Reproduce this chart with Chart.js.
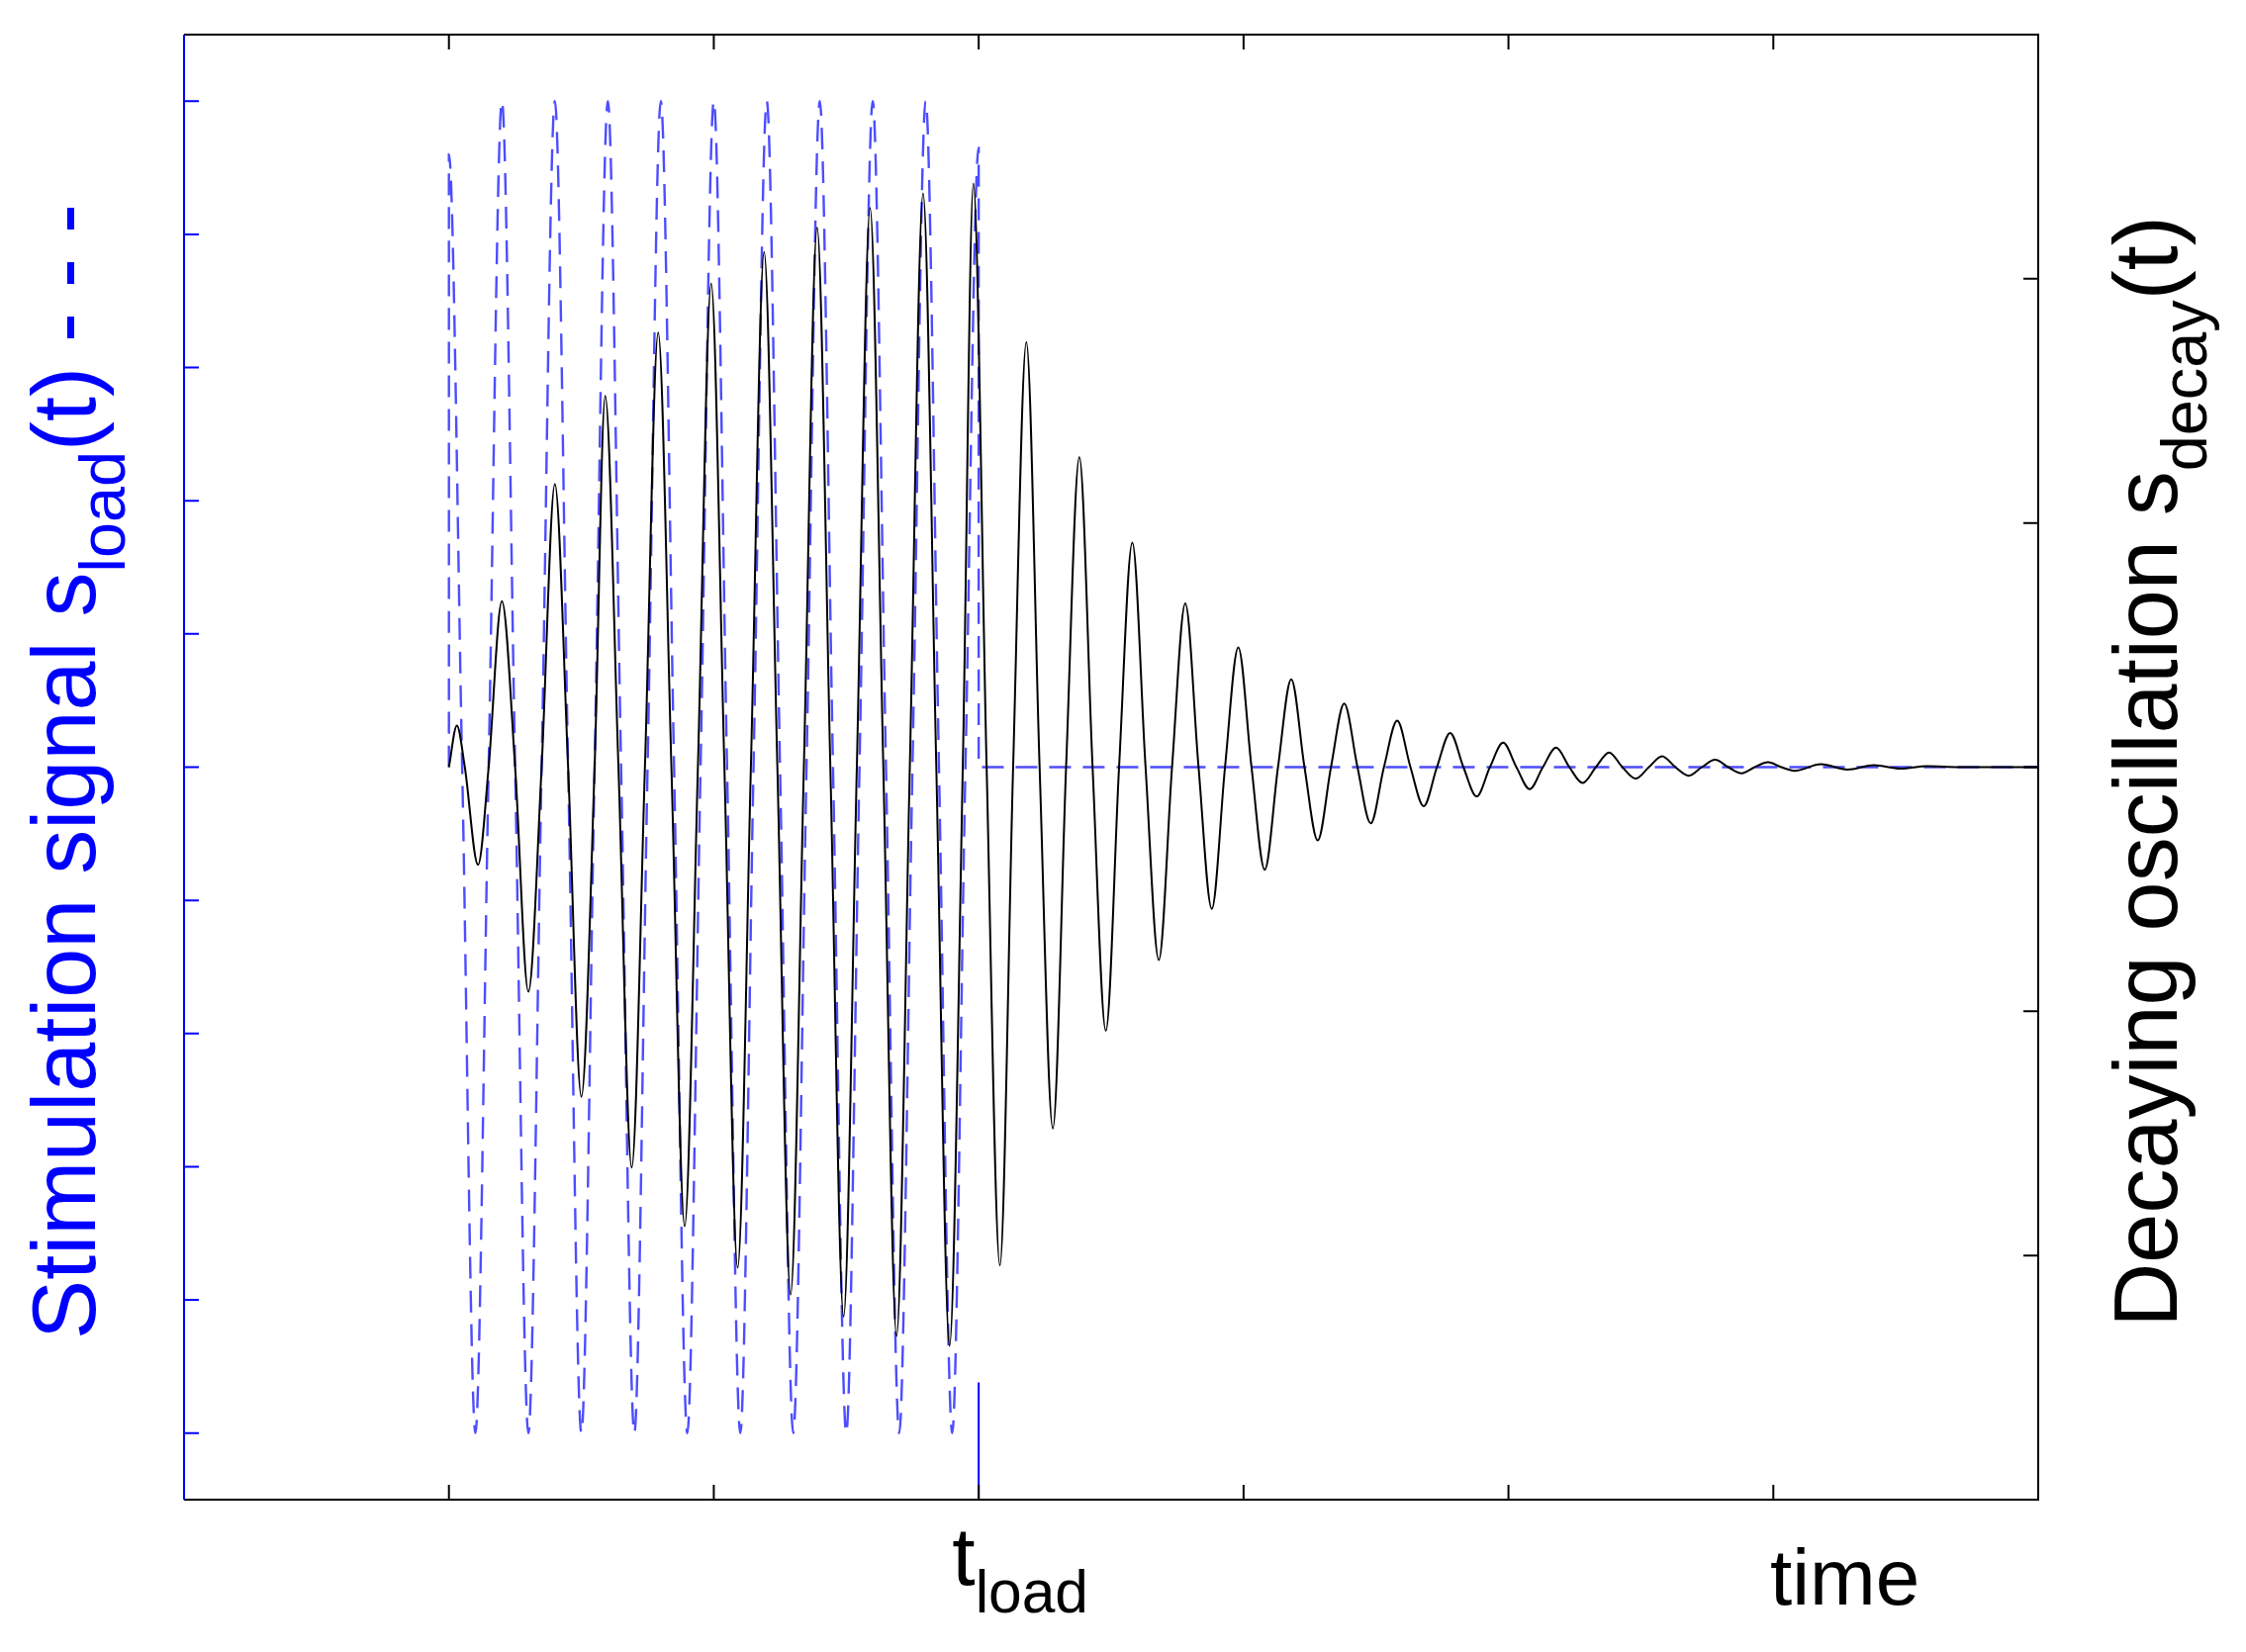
<!DOCTYPE html>
<html>
<head>
<meta charset="utf-8">
<script src="https://cdn.jsdelivr.net/npm/chart.js@4"></script>
<style>
  html, body { margin: 0; padding: 0; background: #fff; }
  canvas { display: block; }
</style>
</head>
<body>
<canvas id="chart" width="2270" height="1670"></canvas>
<script>
// Stimulation signal (left axis): read extrema and zero crossings
const loadX = [0, 0, 0.05, 0.1, 0.15, 0.2, 0.25, 0.3, 0.35, 0.4, 0.45, 0.5, 0.55, 0.6, 0.65, 0.7, 0.75, 0.8, 0.85, 0.9, 0.95,
  1.0, 1.05, 1.1, 1.15, 1.2, 1.25, 1.3, 1.35, 1.4, 1.45, 1.5, 1.55, 1.6, 1.65, 1.7, 1.75, 1.8, 1.85, 1.9, 1.95, 2.0, 2.0, 6.0];
const loadY = [0, 4.6, 0, -5, 0, 5, 0, -5, 0, 5, 0, -5, 0, 5, 0, -5, 0, 5, 0, -5, 0,
  5, 0, -5, 0, 5, 0, -5, 0, 5, 0, -5, 0, 5, 0, -5, 0, 5, 0, -5, 0, 4.65, 0, 0];

// Decaying oscillation (right axis): read extrema and zero crossings
const decayX = [0, 0.03, 0.06, 0.11, 0.15, 0.2, 0.25, 0.3, 0.35, 0.4, 0.45, 0.5, 0.55, 0.59, 0.64, 0.69, 0.74, 0.79, 0.84, 0.89, 0.94,
  0.99, 1.04, 1.09, 1.14, 1.19, 1.24, 1.29, 1.34, 1.39, 1.44, 1.49, 1.54, 1.59, 1.64, 1.69, 1.74, 1.79, 1.84, 1.89, 1.94, 1.98, 2.03,
  2.08, 2.13, 2.18, 2.23, 2.28, 2.33, 2.38, 2.43, 2.48, 2.53, 2.58, 2.63, 2.68, 2.73, 2.78, 2.83, 2.88, 2.93, 2.98, 3.03,
  3.08, 3.13, 3.18, 3.23, 3.28, 3.33, 3.38, 3.43, 3.48, 3.53, 3.58, 3.63, 3.68, 3.73, 3.78, 3.83, 3.88, 3.93, 3.98, 4.03,
  4.08, 4.13, 4.18, 4.23, 4.28, 4.33, 4.38, 4.43, 4.48, 4.53, 4.58, 4.63, 4.68, 4.73, 4.78, 4.83, 4.88, 4.93, 4.98, 5.03,
  5.08, 5.18, 5.28, 5.38, 5.48, 5.58, 5.7, 6.0];
const decayY = [0, 0.17, 0, -0.40, 0, 0.68, 0, -0.92, 0, 1.16, 0, -1.35, 0, 1.52, 0, -1.64, 0, 1.78, 0, -1.88, 0,
  1.98, 0, -2.05, 0, 2.11, 0, -2.16, 0, 2.21, 0, -2.25, 0, 2.29, 0, -2.33, 0, 2.35, 0, -2.37, 0, 2.39, 0,
  -2.04, 0, 1.74, 0, -1.48, 0, 1.27, 0, -1.08, 0, 0.92, 0, -0.79, 0, 0.67, 0, -0.58, 0, 0.49, 0,
  -0.42, 0, 0.36, 0, -0.30, 0, 0.26, 0, -0.23, 0, 0.19, 0, -0.16, 0, 0.14, 0, -0.12, 0, 0.10, 0,
  -0.09, 0, 0.08, 0, -0.065, 0, 0.06, 0, -0.047, 0, 0.045, 0, -0.035, 0, 0.03, 0, -0.025, 0, 0.02, 0,
  -0.015, 0.012, -0.01, 0.008, -0.006, 0.004, 0, 0];

const xTicks = [0, 1, 2, 3, 4, 5];
const leftTicks = [-5, -4, -3, -2, -1, 0, 1, 2, 3, 4, 5];
const rightTicks = [-2, -1, 0, 1, 2];

const toPoints = (xs, ys) => xs.map((x, i) => ({ x: x, y: ys[i] }));

function drawRich(ctx, parts, size, color) {
  const sub = size * 0.72;
  let total = 0;
  parts.forEach(p => {
    ctx.font = (p.sub ? sub : size) + 'px "Liberation Sans", Arial, sans-serif';
    p.w = ctx.measureText(p.t).width;
    total += p.w;
  });
  let x = -total / 2;
  ctx.fillStyle = color;
  ctx.textBaseline = 'alphabetic';
  ctx.textAlign = 'left';
  parts.forEach(p => {
    ctx.font = (p.sub ? sub : size) + 'px "Liberation Sans", Arial, sans-serif';
    ctx.fillText(p.t, x, p.sub ? size * 0.33 : 0);
    x += p.w;
  });
}

const framePlugin = {
  id: 'frame',
  afterDraw(chart) {
    const ctx = chart.ctx;
    const a = chart.chartArea;
    const sx = chart.scales.x, sy = chart.scales.y, sy2 = chart.scales.y2;
    const tl = 15;
    ctx.save();
    ctx.lineWidth = 2;
    ctx.strokeStyle = '#000';
    ctx.beginPath();
    ctx.moveTo(a.left, a.top); ctx.lineTo(a.right, a.top); ctx.lineTo(a.right, a.bottom); ctx.lineTo(a.left, a.bottom);
    xTicks.forEach(v => {
      const px = sx.getPixelForValue(v);
      ctx.moveTo(px, a.bottom); ctx.lineTo(px, a.bottom - tl);
      ctx.moveTo(px, a.top); ctx.lineTo(px, a.top + tl);
    });
    rightTicks.forEach(v => {
      const py = sy2.getPixelForValue(v);
      ctx.moveTo(a.right, py); ctx.lineTo(a.right - tl, py);
    });
    ctx.stroke();
    ctx.strokeStyle = '#0000ff';
    ctx.beginPath();
    ctx.moveTo(a.left, a.top); ctx.lineTo(a.left, a.bottom);
    leftTicks.forEach(v => {
      const py = sy.getPixelForValue(v);
      ctx.moveTo(a.left, py); ctx.lineTo(a.left + tl, py);
    });
    ctx.stroke();

    // bottom labels
    ctx.save();
    ctx.translate(sx.getPixelForValue(2) + 42, 1602);
    drawRich(ctx, [{ t: 't' }, { t: 'load', sub: true }], 84, '#000');
    ctx.restore();
    ctx.save();
    ctx.translate(sx.getPixelForValue(5.27), 1622);
    drawRich(ctx, [{ t: 'time' }], 80, '#000');
    ctx.restore();

    // axis titles
    ctx.save();
    ctx.translate(96, 780);
    ctx.rotate(-Math.PI / 2);
    drawRich(ctx, [{ t: 'Stimulation signal s' }, { t: 'load', sub: true }, { t: '(t) - - -' }], 90, '#0000ff');
    ctx.restore();
    ctx.save();
    ctx.translate(2200, 780);
    ctx.rotate(-Math.PI / 2);
    drawRich(ctx, [{ t: 'Decaying oscillation s' }, { t: 'decay', sub: true }, { t: '(t)' }], 90, '#000');
    ctx.restore();
    ctx.restore();
  }
};

new Chart(document.getElementById('chart'), {
  type: 'line',
  data: {
    datasets: [
      {
        data: toPoints(decayX, decayY),
        yAxisID: 'y2',
        borderColor: '#000',
        borderWidth: 2,
        pointRadius: 0,
        cubicInterpolationMode: 'monotone'
      },
      {
        data: toPoints(loadX, loadY),
        yAxisID: 'y',
        borderColor: '#4d4dff',
        borderWidth: 2.4,
        borderDash: [22, 12],
        pointRadius: 0,
        cubicInterpolationMode: 'monotone'
      },
      {
        data: [{ x: 2, y: -4.62 }, { x: 2, y: -5.5 }],
        yAxisID: 'y',
        borderColor: '#0000ff',
        borderWidth: 2,
        pointRadius: 0
      }
    ]
  },
  options: {
    responsive: false,
    animation: false,
    devicePixelRatio: 1,
    layout: { padding: { left: 186, right: 210, top: 35, bottom: 154 } },
    plugins: { legend: { display: false }, tooltip: { enabled: false } },
    scales: {
      x: { type: 'linear', min: -1, max: 6, display: false },
      y: { type: 'linear', min: -5.5, max: 5.5, display: false },
      y2: { type: 'linear', position: 'right', min: -3, max: 3, display: false }
    }
  },
  plugins: [framePlugin]
});
</script>
</body>
</html>
